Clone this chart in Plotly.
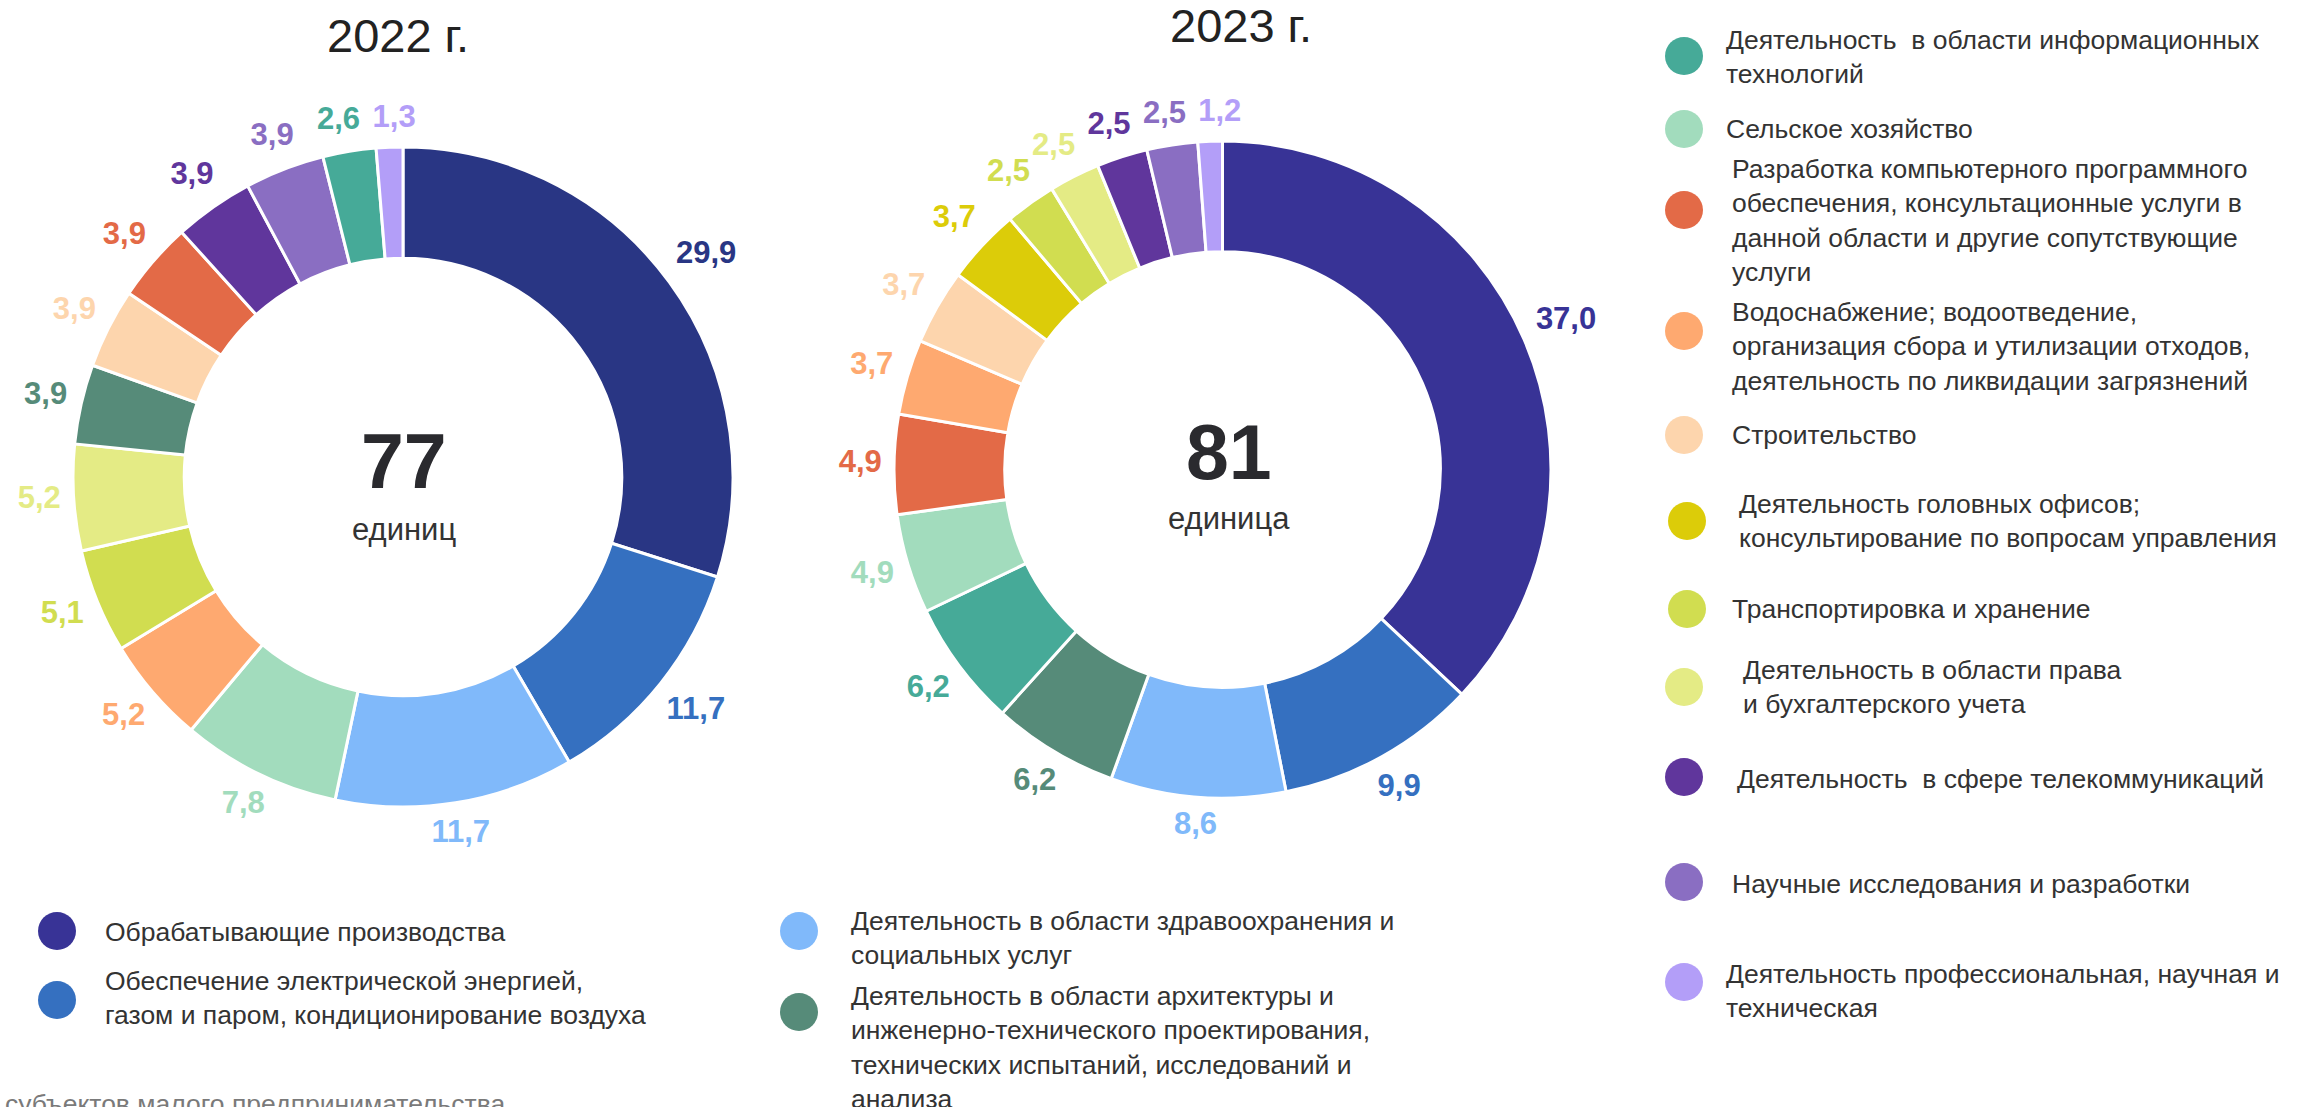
import math
import plotly.graph_objects as go

W, H = 2306, 1107

# ---------------- data ----------------
labels_2022 = [
    "Обрабатывающие производства",
    "Обеспечение электрической энергией, газом и паром, кондиционирование воздуха",
    "Деятельность в области здравоохранения и социальных услуг",
    "Сельское хозяйство",
    "Водоснабжение; водоотведение, организация сбора и утилизации отходов, деятельность по ликвидации загрязнений",
    "Транспортировка и хранение",
    "Деятельность в области права и бухгалтерского учета",
    "Деятельность в области архитектуры и инженерно-технического проектирования, технических испытаний, исследований и анализа",
    "Строительство",
    "Разработка компьютерного программного обеспечения, консультационные услуги в данной области и другие сопутствующие услуги",
    "Деятельность в сфере телекоммуникаций",
    "Научные исследования и разработки",
    "Деятельность в области информационных технологий",
    "Деятельность профессиональная, научная и техническая",
]
values_2022 = [29.9, 11.7, 11.7, 7.8, 5.2, 5.1, 5.2, 3.9, 3.9, 3.9, 3.9, 3.9, 2.6, 1.3]
colors_2022 = ["#293684", "#3570c0", "#80b9fa", "#a2dcbd", "#fea970", "#d1dd50", "#e4eb85",
               "#568b79", "#fdd5ad", "#e36a47", "#60369c", "#8a6ec2", "#46aa98", "#b39ef8"]

labels_2023 = [
    "Обрабатывающие производства",
    "Обеспечение электрической энергией, газом и паром, кондиционирование воздуха",
    "Деятельность в области здравоохранения и социальных услуг",
    "Деятельность в области архитектуры и инженерно-технического проектирования, технических испытаний, исследований и анализа",
    "Деятельность в области информационных технологий",
    "Сельское хозяйство",
    "Разработка компьютерного программного обеспечения, консультационные услуги в данной области и другие сопутствующие услуги",
    "Водоснабжение; водоотведение, организация сбора и утилизации отходов, деятельность по ликвидации загрязнений",
    "Строительство",
    "Деятельность головных офисов; консультирование по вопросам управления",
    "Транспортировка и хранение",
    "Деятельность в области права и бухгалтерского учета",
    "Деятельность в сфере телекоммуникаций",
    "Научные исследования и разработки",
    "Деятельность профессиональная, научная и техническая",
]
values_2023 = [37.0, 9.9, 8.6, 6.2, 6.2, 4.9, 4.9, 3.7, 3.7, 3.7, 2.5, 2.5, 2.5, 2.5, 1.2]
colors_2023 = ["#383396", "#3570c0", "#80b9fa", "#568b79", "#46aa98", "#a2dcbd", "#e36a47",
               "#fea970", "#fdd5ad", "#dccc09", "#d1dd50", "#e4eb85", "#60369c", "#8a6ec2", "#b39ef8"]

totals = ["77", "81"]
units = ["единиц", "единица"]
years = ["2022 г.", "2023 г."]

legend_right = [
    ("Деятельность  в области информационных<br>технологий", "#46aa98"),
    ("Сельское хозяйство", "#a2dcbd"),
    ("Разработка компьютерного программного<br>обеспечения, консультационные услуги в<br>данной области и другие сопутствующие<br>услуги", "#e36a47"),
    ("Водоснабжение; водоотведение,<br>организация сбора и утилизации отходов,<br>деятельность по ликвидации загрязнений", "#fea970"),
    ("Строительство", "#fdd5ad"),
    ("Деятельность головных офисов;<br>консультирование по вопросам управления", "#dccc09"),
    ("Транспортировка и хранение", "#d1dd50"),
    ("Деятельность в области права<br>и бухгалтерского учета", "#e4eb85"),
    ("Деятельность  в сфере телекоммуникаций", "#60369c"),
    ("Научные исследования и разработки", "#8a6ec2"),
    ("Деятельность профессиональная, научная и<br>техническая", "#b39ef8"),
]
legend_bottom = [
    ("Обрабатывающие производства", "#383396"),
    ("Обеспечение электрической энергией,<br>газом и паром, кондиционирование воздуха", "#3570c0"),
    ("Деятельность в области здравоохранения и<br>социальных услуг", "#80b9fa"),
    ("Деятельность в области архитектуры и<br>инженерно-технического проектирования,<br>технических испытаний, исследований и<br>анализа", "#568b79"),
]
source_note = "субъектов малого предпринимательства"

# ---------------- layout helpers ----------------
FONT = "Liberation Sans, Arial, sans-serif"
LABEL_SIZE = 31
HOLE = 0.663


def px(x):
    return x / W


def py(y):
    return 1 - y / H


def fmt(v):
    return f"{v:.1f}".replace(".", ",")


def donut(values, labels, colors, cx, cy, r):
    return go.Pie(
        values=values,
        labels=labels,
        textinfo="none",
        marker=dict(colors=colors, line=dict(color="white", width=3)),
        hole=HOLE,
        sort=False,
        direction="clockwise",
        rotation=0,
        showlegend=False,
        domain=dict(x=[px(cx - r), px(cx + r)], y=[py(cy + r), py(cy - r)]),
        hovertemplate="%{label}: %{value}%<extra></extra>",
    )


def outside_labels(values, colors, cx, cy, r):
    """Value labels just outside the ring, at each slice's mid angle (pixel axes),
    nudged apart along the ring where neighbouring labels would collide."""
    total = sum(values)
    n = len(values)
    texts = [fmt(v) for v in values]
    widths = [LABEL_SIZE * (0.556 * sum(c.isdigit() for c in t) + 0.278 * t.count(",")) for t in texts]
    hgt = LABEL_SIZE * 0.8
    angles = []
    acc = 0.0
    for v in values:
        angles.append(2 * math.pi * (acc + v / 2) / total)
        acc += v

    def pos(i):
        a = angles[i]
        rl = r + 12 + abs(math.sin(a)) * widths[i] / 2 + abs(math.cos(a)) * LABEL_SIZE / 2
        return cx + rl * math.sin(a), cy - rl * math.cos(a)

    gap = 12
    for _ in range(3000):
        moved = False
        for i in range(n):
            j = (i + 1) % n
            xi, yi = pos(i)
            xj, yj = pos(j)
            if (abs(xi - xj) < (widths[i] + widths[j]) / 2 + gap) and abs(yi - yj) < hgt:
                angles[i] -= 0.002
                angles[j] += 0.002
                moved = True
        if not moved:
            break

    xs, ys = zip(*[pos(i) for i in range(n)])
    return go.Scatter(
        x=list(xs), y=list(ys), text=texts, mode="text",
        textposition="middle center",
        textfont=dict(color=colors, size=LABEL_SIZE, family=FONT, weight="bold"),
        showlegend=False, hoverinfo="skip",
    )


centres = [(403, 477, 330), (1222.5, 469.5, 328.5)]

fig = go.Figure()
for (vals, labs, cols), (cx, cy, r) in zip(
        [(values_2022, labels_2022, colors_2022), (values_2023, labels_2023, colors_2023)], centres):
    fig.add_trace(donut(vals, labs, cols, cx, cy, r))
    fig.add_trace(outside_labels(vals, cols, cx, cy, r))

ann = []
# titles
for t, (x, y) in zip(years, [(398, 35), (1241, 25)]):
    ann.append(dict(text=t, x=px(x), y=py(y), font=dict(size=47, color="#222222")))
# centre texts
for t, (x, y) in zip(totals, [(404, 461), (1229, 452)]):
    ann.append(dict(text=t, x=px(x), y=py(y), font=dict(size=77, color="#2a2a2e", weight="bold")))
for t, (x, y) in zip(units, [(404, 529), (1229, 518)]):
    ann.append(dict(text=t, x=px(x), y=py(y), font=dict(size=31, color="#333333")))

shapes = []
DOT = 38
right_dots = [(1684, 56), (1684, 129), (1684, 210), (1684, 331), (1684, 435), (1687, 521),
              (1687, 609), (1684, 687), (1684, 777), (1684, 882), (1684, 982)]
right_text = [(1724, 57), (1724, 129), (1730, 221), (1730, 346), (1730, 435), (1737, 521),
              (1730, 609), (1741, 687), (1735, 779), (1730, 884), (1724, 991)]
bottom_dots = [(57, 931), (57, 1000), (799, 931), (799, 1012)]
bottom_text = [(103, 932), (103, 998), (849, 938), (849, 1047)]

for items, dots, texts in [(legend_right, right_dots, right_text),
                           (legend_bottom, bottom_dots, bottom_text)]:
    for (label, col), (dx, dy), (tx, ty) in zip(items, dots, texts):
        shapes.append(dict(type="circle", xref="paper", yref="paper",
                           xsizemode="pixel", ysizemode="pixel",
                           xanchor=px(dx), yanchor=py(dy),
                           x0=-DOT / 2, x1=DOT / 2, y0=-DOT / 2, y1=DOT / 2,
                           fillcolor=col, line=dict(width=0)))
        ann.append(dict(text=label, x=px(tx), y=py(ty), xanchor="left", yanchor="middle",
                        align="left", font=dict(size=26.5, color="#333333")))

ann.append(dict(text=source_note, x=px(3), y=py(1104), xanchor="left", yanchor="middle",
                align="left", font=dict(size=26.5, color="#7a7a7a")))

for a in ann:
    a.setdefault("xref", "paper")
    a.setdefault("yref", "paper")
    a.setdefault("showarrow", False)
    a.setdefault("xanchor", "center")
    a.setdefault("yanchor", "middle")

fig.update_layout(
    width=W, height=H,
    margin=dict(l=0, r=0, t=0, b=0),
    paper_bgcolor="white",
    plot_bgcolor="rgba(0,0,0,0)",
    font=dict(family=FONT, color="#333333"),
    xaxis=dict(range=[0, W], visible=False, fixedrange=True, domain=[0, 1]),
    yaxis=dict(range=[H, 0], visible=False, fixedrange=True, domain=[0, 1]),
    annotations=ann,
    shapes=shapes,
    showlegend=False,
)

fig.write_html("out.html", config={"displayModeBar": False},
               post_script="document.body.style.margin='0';")
